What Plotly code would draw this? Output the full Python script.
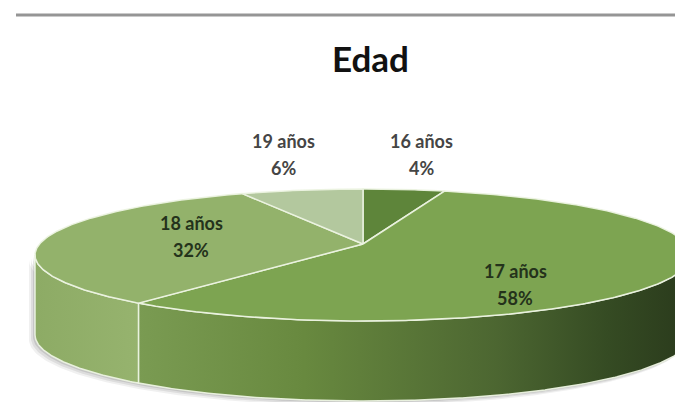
import numpy as np
import plotly.graph_objects as go

# ---- data ----
categories = ["16 años", "17 años", "18 años", "19 años"]
values = [4, 58, 32, 6]
title_text = "Edad"

# ---- styling / geometry (not data) ----
top_colors = ["#5e853a", "#7da451", "#93b26b", "#b3c89e"]
side_scales = [
    [[0, "#4f7030"], [1, "#4f7030"]],
    [[0, "#7a9b52"], [0.3, "#68893f"], [0.65, "#4c6631"], [0.85, "#354b23"], [1, "#2a3a1c"]],
    [[0, "#8dab65"], [1, "#96b36e"]],
    [[0, "#a6bd8f"], [1, "#a6bd8f"]],
]
label_pos = [(413, 133, 160), (507, 263, 290), (183, 215, 242), (275, 133, 160)]
label_col = ["#454545", "#24321b", "#24321b", "#454545"]

W, H = 683, 402
cx, cy, rx, ry = 355, 247, 328, 66
apex_y = 236
depth = 80
edge = "rgba(236,243,226,0.95)"


def rim(theta_deg, dy=0.0):
    t = np.radians(theta_deg)
    return cx + rx * np.sin(t), cy - ry * np.cos(t) + dy


total = float(sum(values))
bounds = np.concatenate([[0], np.cumsum(values)]) / total * 360.0

fig = go.Figure()

# soft shadow under the body
th = np.linspace(90, 270, 200)
bx, by = rim(th, depth)
tx, ty = rim(th[::-1], 0)
for k, op in [(6, 0.06), (4, 0.08), (2, 0.10)]:
    fig.add_trace(go.Scatter(
        x=np.concatenate([bx - k, tx - k]), y=np.concatenate([by + k * 0.8, ty + k * 0.8]),
        fill="toself", mode="lines", line=dict(width=0),
        fillcolor=f"rgba(0,0,0,{op})", hoverinfo="skip", showlegend=False))

# side walls (front half only: 90..270 deg)
for i in range(len(values)):
    a0, a1 = max(bounds[i], 90.0), min(bounds[i + 1], 270.0)
    if a1 <= a0:
        continue
    th = np.linspace(a0, a1, max(int((a1 - a0) * 2), 4))
    x_top, y_top = rim(th)
    x_bot, y_bot = rim(th[::-1], depth)
    fig.add_trace(go.Scatter(
        x=np.concatenate([x_top, x_bot, x_top[:1]]),
        y=np.concatenate([y_top, y_bot, y_top[:1]]),
        fill="toself", mode="lines", line=dict(color=edge, width=1.5),
        fillgradient=dict(type="horizontal", colorscale=side_scales[i]),
        hoverinfo="skip", showlegend=False))

# top faces
for i in range(len(values)):
    a0, a1 = bounds[i], bounds[i + 1]
    th = np.linspace(a0, a1, max(int((a1 - a0) * 2), 4))
    x_arc, y_arc = rim(th)
    fig.add_trace(go.Scatter(
        x=np.concatenate([[cx], x_arc, [cx]]),
        y=np.concatenate([[apex_y], y_arc, [apex_y]]),
        fill="toself", mode="lines", line=dict(color=edge, width=1.5),
        fillcolor=top_colors[i], hoverinfo="skip", showlegend=False))

# labels
for i, cat in enumerate(categories):
    lx, y1, y2 = label_pos[i]
    for txt, yy in [(cat, y1), (f"{values[i]}%", y2)]:
        fig.add_annotation(x=lx, y=yy, text=f"<b>{txt}</b>", showarrow=False,
                           font=dict(family="Lato", size=18, color=label_col[i]),
                           xanchor="center", yanchor="middle")

fig.add_annotation(x=362, y=50, text=f"<b>{title_text}</b>", showarrow=False,
                   font=dict(family="Lato", size=35, color="#111111"),
                   xanchor="center", yanchor="middle")

# top border line
fig.add_shape(type="line", x0=8, x1=W, y0=7, y1=7,
              line=dict(color="#959595", width=3))

fig.update_layout(
    width=W, height=H, margin=dict(l=0, r=0, t=0, b=0),
    paper_bgcolor="white", plot_bgcolor="white",
    xaxis=dict(range=[0, W], visible=False, fixedrange=True),
    yaxis=dict(range=[H, 0], visible=False, fixedrange=True),
    showlegend=False,
)

fig.write_html("out.html")
